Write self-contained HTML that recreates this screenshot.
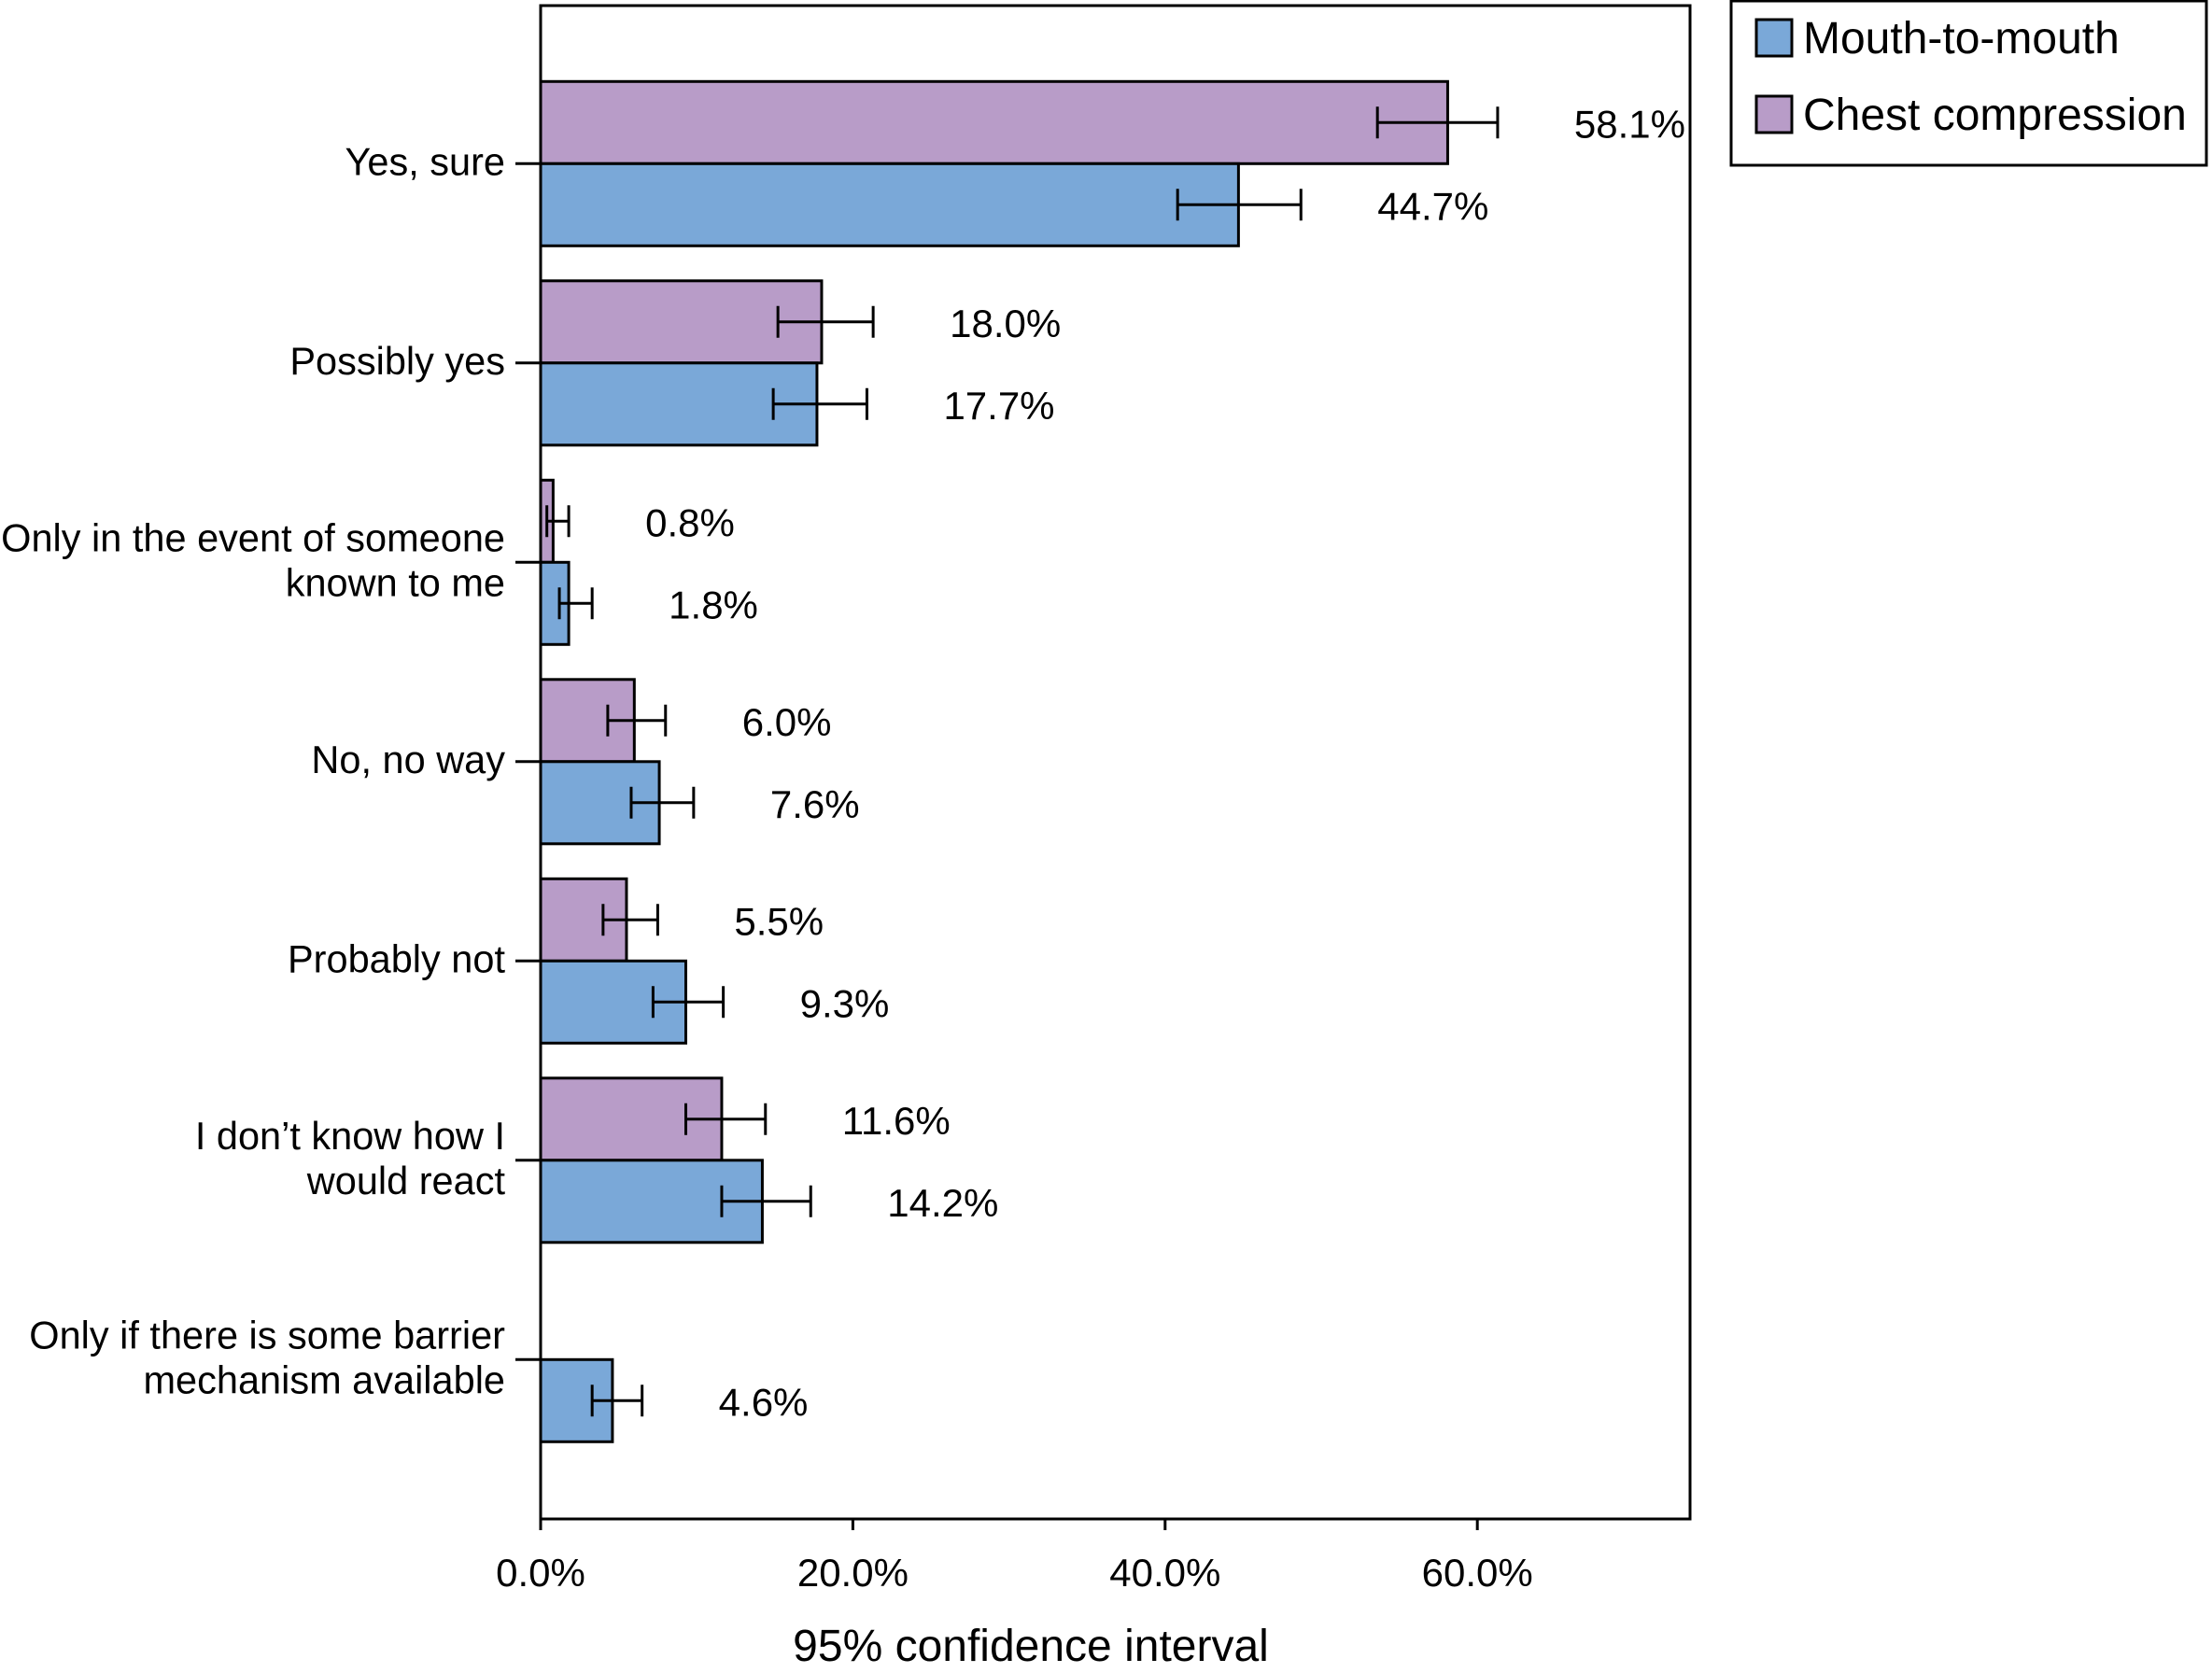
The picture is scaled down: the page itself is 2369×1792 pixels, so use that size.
<!DOCTYPE html>
<html><head><meta charset="utf-8"><style>
html,body{margin:0;padding:0;background:#fff;}
svg{display:block;font-family:"Liberation Sans",sans-serif;}
</style></head><body>
<svg id="chart" width="2369" height="1792" viewBox="0 0 2369 1792">
<rect x="579" y="6" width="1231" height="1621" fill="#fff" stroke="#000" stroke-width="3"/>
<g>
<rect x="1854" y="1" width="509" height="176" fill="#fff" stroke="#000" stroke-width="3"/>
<g>
<rect x="1881" y="21" width="38" height="39" fill="#7aa8d8" stroke="#000" stroke-width="3"/>
<text x="1931" y="57" font-size="48">Mouth-to-mouth</text></g>
<g>
<rect x="1881" y="103" width="38" height="39" fill="#b89cc8" stroke="#000" stroke-width="3"/>
<text x="1931" y="139" font-size="48">Chest compression</text></g>
</g>
<text x="1104" y="1779" font-size="48" text-anchor="middle">95% confidence interval</text>
<g id="marks"></g>
</svg>
<script>
const categories=[["Yes, sure"],["Possibly yes"],["Only in the event of someone","known to me"],["No, no way"],["Probably not"],["I don\u2019t know how I","would react"],["Only if there is some barrier","mechanism available"]];
const chestValues=[58.1,18.0,0.8,6.0,5.5,11.6,null];
const chestLow=[53.6,15.2,0.4,4.3,4.0,9.3,null];
const chestHigh=[61.3,21.3,1.8,8.0,7.5,14.4,null];
const mouthValues=[44.7,17.7,1.8,7.6,9.3,14.2,4.6];
const mouthLow=[40.8,14.9,1.2,5.8,7.2,11.6,3.3];
const mouthHigh=[48.7,20.9,3.3,9.8,11.7,17.3,6.5];
const xTicks=[0,20,40,60];
const xTickLabels=["0.0%","20.0%","40.0%","60.0%"];

const NS="http://www.w3.org/2000/svg";
const g=document.getElementById('marks');
const x0=579,pxPer=16.72,yTop=175.3,step=213.5,barH=88,axisY=1627;
function xs(v){return x0+v*pxPer;}
function yc(i){return yTop+i*step;}
function mk(tag,attrs){const e=document.createElementNS(NS,tag);for(const k in attrs)e.setAttribute(k,attrs[k]);g.appendChild(e);return e;}

xTicks.forEach((t,i)=>{
  const l=mk('line',{x1:xs(t),x2:xs(t),y1:axisY,y2:axisY+12,stroke:'#000','stroke-width':3});
  
  
  const tx=mk('text',{x:xs(t),y:1699,'font-size':42,'text-anchor':'middle'});
  tx.textContent=xTickLabels[i];
  
  
});

function drawBar(i,v,lo,hi,fill,series,top){
  const y=top?yc(i)-barH:yc(i);
  const r=mk('rect',{x:xs(0),y:y,width:xs(v)-xs(0),height:barH,fill:fill,stroke:'#000','stroke-width':3});
  
  
  const cy=y+barH/2;
  const e=mk('path',{d:`M${xs(lo)},${cy}H${xs(hi)}M${xs(lo)},${cy-17}V${cy+17}M${xs(hi)},${cy-17}V${cy+17}`,stroke:'#000','stroke-width':3,fill:'none'});
  
  
  const t=mk('text',{x:xs(hi)+82,y:cy+16,'font-size':42});
  t.textContent=v.toFixed(1)+'%';
  
  
}

categories.forEach((c,i)=>{
  const tk=mk('line',{x1:552,x2:579,y1:yc(i),y2:yc(i),stroke:'#000','stroke-width':3});
  
  
  const lh=48,start=yc(i)-(c.length-1)*lh/2+12;
  c.forEach((line,j)=>{
    const t=mk('text',{x:541,y:start+j*lh,'font-size':41.5,'text-anchor':'end'});
    t.textContent=line;
    
    
  });
  if(chestValues[i]!==null)drawBar(i,chestValues[i],chestLow[i],chestHigh[i],'#b89cc8','chest',true);
  if(mouthValues[i]!==null)drawBar(i,mouthValues[i],mouthLow[i],mouthHigh[i],'#7aa8d8','mouth',false);
});
</script>
</body></html>
